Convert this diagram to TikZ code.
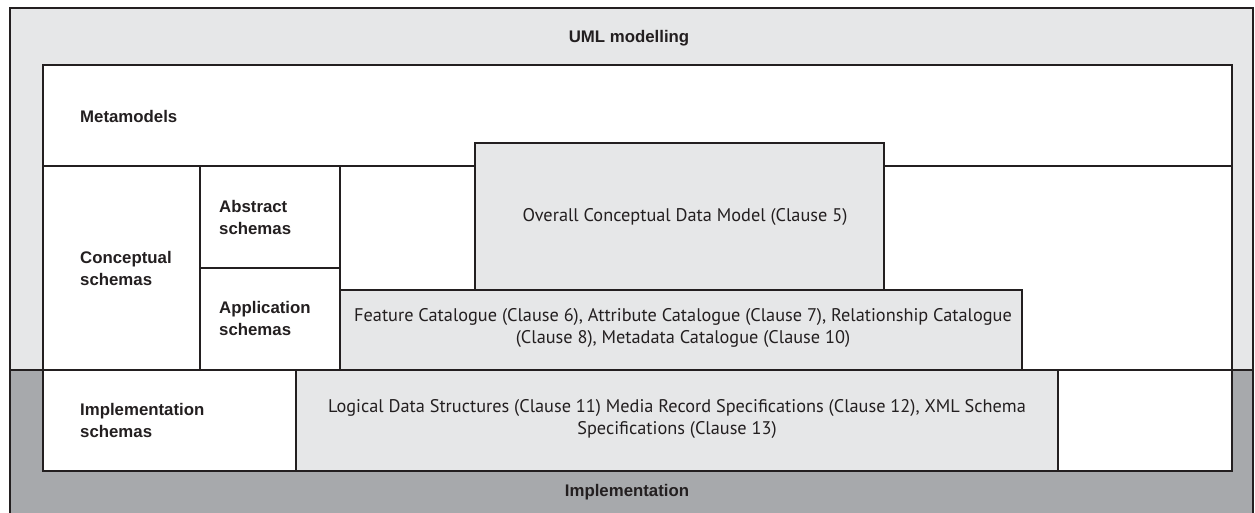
\documentclass[tikz,border=0pt]{standalone}
\usepackage{fontspec}
\setmainfont{PT Sans}
\newfontfamily\labelfont{Liberation Sans}
\definecolor{lgray}{HTML}{E6E7E8}
\definecolor{dgray}{HTML}{A7A9AC}
\definecolor{ink}{HTML}{231F20}
\begin{document}
\begin{tikzpicture}[x=1pt,y=-1pt,
  frame/.style={draw=ink,line width=1.8pt},
  lab/.style={font=\labelfont\bfseries\fontsize{16.8}{22}\selectfont,text=ink,align=left,anchor=west,inner sep=0pt},
  ctr/.style={font=\labelfont\bfseries\fontsize{16.8}{22}\selectfont,text=ink,inner sep=0pt},
  body/.style={font=\fontsize{18.3}{21.5}\selectfont,text=ink,align=center,inner sep=0pt}]
\useasboundingbox (0,0) rectangle (1255,513);
% outer regions
\fill[lgray] (10,8) rectangle (1253,370);
\fill[dgray] (10,370) rectangle (1253,516);
\draw[frame] (10,8) rectangle (1253,516);
\draw[frame] (10,370) -- (1253,370);
% inner white
\draw[frame,fill=white] (43,65) rectangle (1232,471);
\draw[frame] (43,166) -- (1232,166);
\draw[frame] (43,370) -- (1232,370);
% conceptual sub boxes
\draw[frame,fill=white] (200,166) rectangle (340,268);
\draw[frame,fill=white] (200,268) rectangle (340,370);
% grey boxes
\draw[frame,fill=lgray] (475,143) rectangle (884,290);
\draw[frame,fill=lgray] (340,290) rectangle (1022,370);
\draw[frame,fill=white] (43,370) rectangle (296,471);
\draw[frame,fill=lgray] (296,370) rectangle (1058,471);
\draw[frame,fill=white] (1058,370) rectangle (1232,471);
% labels
\node[ctr] (uml) at (629,38) {UML modelling};
\node[ctr] (impl) at (627,492) {Implementation};
\node[lab] (meta) at (80,116) {Metamodels};
\node[lab] (abs) at (219,217) {Abstract\\schemas};
\node[lab] (conc) at (80,268) {Conceptual\\schemas};
\node[lab] (app) at (219,318) {Application\\schemas};
\node[lab] (impls) at (80,420) {Implementation\\schemas};
% body texts
\node[body] (ocdm) at (685,217) {Overall Conceptual Data Model (Clause 5)};
\node[body] (fc) at (683,328) {Feature Catalogue (Clause 6), Attribute Catalogue (Clause 7), Relationship Catalogue\\(Clause 8), Metadata Catalogue (Clause 10)};
\node[body] (lds) at (677,419) {Logical Data Structures (Clause 11) Media Record Specifications (Clause 12), XML Schema\\Specifications (Clause 13)};
\end{tikzpicture}
\end{document}
